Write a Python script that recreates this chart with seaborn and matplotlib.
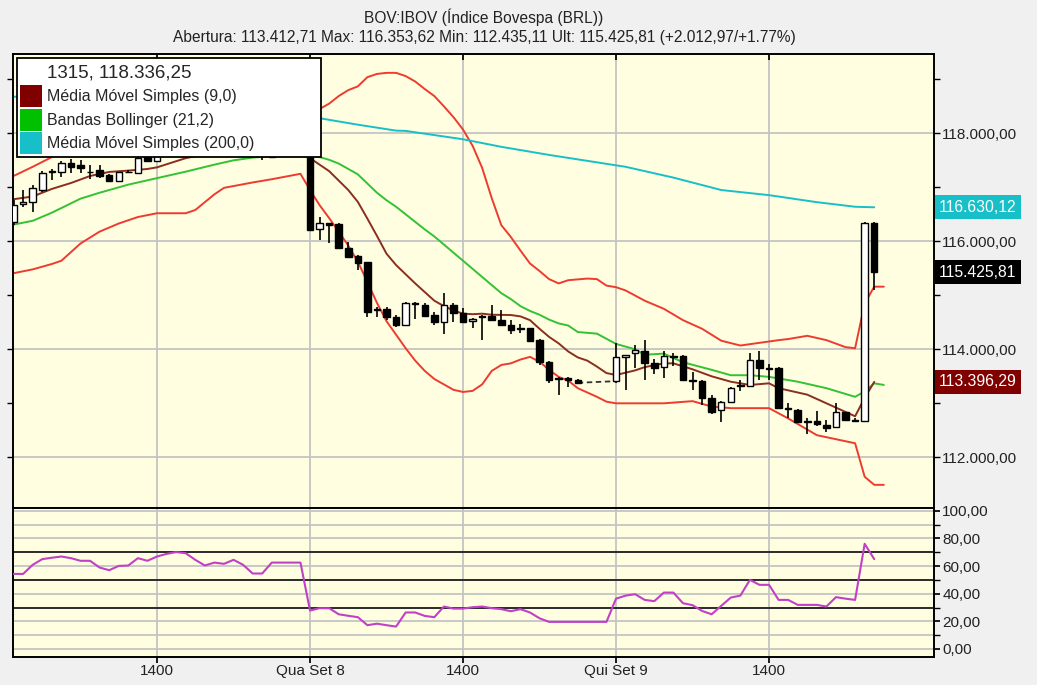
import matplotlib
matplotlib.use("Agg")
import matplotlib.pyplot as plt
import matplotlib.ticker as mticker
from matplotlib.patches import Patch
import seaborn as sns
import pandas as pd
import numpy as np

# 15 min bars, index 0 = Qua Set 8 10:00 (16 bars between grid lines)
bar_idx = list(range(-31, -3)) + list(range(0, 29)) + list(range(32, 60))
opens = [116350, 116690, 116730, 116950, 117280, 117280, 117450, 117410, 117290, 117320,
         117220, 117120, 117280, 117270, 117560, 117480, 117600, 117700, 117820, 117900,
         117850, 117950, 117880, 117800, 117760, 117700, 117650, 117600,
         117600, 116222, 116330, 116320, 115870, 115730, 115620, 114740, 114740, 114600,
         114450, 114860, 114820, 114630, 114510, 114820, 114670, 114520, 114610, 114620,
         114540, 114450, 114390, 114390, 114170, 113770, 113470, 113470, 113440,
         113410, 113850, 113930, 113970, 113740, 113680, 113880, 113880, 113440, 113420,
         113090, 112870, 113030, 113320, 113320, 113810, 113650, 113650, 112910, 112880,
         112680, 112680, 112600, 112560, 112830, 112690, 112680, 116330]
highs = [116760, 116950, 117040, 117300, 117340, 117480, 117520, 117500, 117420, 117420,
         117240, 117290, 117320, 117560, 117620, 117650, 117750, 117880, 117960, 117980,
         118000, 118020, 117920, 117850, 117800, 117740, 117680, 117620,
         117620, 116456, 116340, 116330, 115990, 115740, 115620, 114790, 114790, 114640,
         114870, 114870, 114860, 114690, 115050, 114850, 114760, 114580, 114640, 114820,
         114730, 114540, 114470, 114400, 114200, 113790, 113480, 113480, 113450,
         114120, 113900, 114080, 114170, 113820, 113960, 113930, 113890, 113580, 113430,
         113150, 113040, 113300, 113440, 113930, 113960, 113720, 113680, 113000, 112890,
         112720, 112850, 112700, 113000, 112840, 112720, 116354, 116354]
lows = [116300, 116640, 116540, 116910, 117140, 117190, 117260, 117260, 117160, 117180,
        117090, 117110, 117260, 117250, 117470, 117470, 117560, 117680, 117780, 117800,
        117820, 117850, 117760, 117700, 117650, 117600, 117500, 117540,
        116200, 116024, 115960, 115860, 115710, 115470, 114600, 114600, 114540, 114420,
        114440, 114570, 114600, 114450, 114280, 114510, 114480, 114390, 114170, 114530,
        114440, 114290, 114300, 114150, 113710, 113380, 113150, 113300, 113370,
        113370, 113250, 113650, 113430, 113550, 113460, 113690, 113420, 113240, 112970,
        112800, 112660, 113020, 113220, 113300, 113430, 113440, 112890, 112720, 112650,
        112435, 112580, 112470, 112550, 112680, 112660, 112650, 115100]
closes = [116680, 116720, 116990, 117265, 117300, 117450, 117370, 117350, 117280, 117210,
          117120, 117280, 117290, 117540, 117480, 117600, 117700, 117820, 117900, 117850,
          117950, 117880, 117800, 117760, 117700, 117650, 117600, 117570,
          116210, 116333, 116300, 115870, 115715, 115600, 114700, 114730, 114590, 114450,
          114860, 114830, 114620, 114510, 114820, 114670, 114510, 114570, 114590, 114540,
          114450, 114360, 114380, 114160, 113770, 113430, 113450, 113440, 113380,
          113850, 113890, 113990, 113740, 113650, 113880, 113860, 113430, 113420, 113090,
          112840, 113030, 113290, 113340, 113810, 113650, 113640, 112910, 112900, 112660,
          112660, 112610, 112540, 112830, 112690, 112680, 116330, 115425.81]

# sessions joined by a dashed line (last bar -> first bar of next day)
gap_from = [-4, 28]
gap_to = [0, 32]

ma9_idx = [-31, -29, -27, -25, -23, -21, -19, -17, -16, -13, -10, -6, -3, 0, 2, 4, 5, 6, 7, 8,
           9, 10, 11, 12, 13, 14, 15, 16, 17, 18, 19, 21, 22, 23, 24, 25, 26, 27, 28, 29, 30, 31,
           32, 34, 35, 37, 38, 40, 42, 44, 46, 48, 49, 52, 54, 57, 58, 59]
ma9_val = [116780, 116830, 116970, 117080, 117210, 117285, 117310, 117340, 117370, 117540,
           117650, 117740, 117740, 117540, 117300, 116950, 116730, 116420, 116100, 115770,
           115560, 115390, 115220, 115060, 114900, 114800, 114720, 114660, 114650, 114660,
           114640, 114635, 114610, 114540, 114380, 114230, 114110, 113960, 113850, 113790,
           113680, 113560, 113524, 113610, 113670, 113740, 113740, 113630, 113500, 113400,
           113340, 113370, 113280, 113160, 113000, 112760, 113100, 113396.29]

bb_mid_idx = [-31, -29, -27, -24, -22, -19, -16, -13, -10, -8, -6, -3, 0, 1, 2, 3, 4, 5, 6, 7,
              8, 9, 10, 11, 12, 13, 14, 15, 16, 17, 18, 19, 20, 21, 22, 23, 24, 25, 26, 27, 28,
              30, 32, 34, 35, 37, 39, 42, 44, 46, 48, 51, 54, 57, 58, 59, 60]
bb_mid_val = [116310, 116380, 116530, 116790, 116900, 117050, 117170, 117290, 117420, 117500,
              117550, 117590, 117600, 117560, 117510, 117440, 117340, 117240, 117070, 116900,
              116760, 116640, 116500, 116360, 116220, 116090, 115940, 115790, 115640, 115490,
              115340, 115190, 115040, 114930, 114800, 114710, 114640, 114550, 114480, 114440,
              114320, 114290, 114100, 114000, 113900, 113920, 113760, 113620, 113520, 113520,
              113490, 113400, 113280, 113120, 113220, 113370, 113340]

bb_up_idx = [-31, -29, -27, -24, -20, -16, -12, -8, -4, 0, 1, 2, 3, 4, 5, 6, 7, 8, 9, 10,
             11, 12, 13, 14, 15, 16, 17, 18, 19, 20, 21, 22, 23, 24, 25, 26, 27, 29, 30, 31,
             32, 33, 35, 37, 39, 41, 43, 45, 47, 49, 50, 52, 54, 56, 57, 58, 59, 60]
bb_up_val = [117210, 117380, 117560, 117850, 118150, 118350, 118450, 118450, 118400, 118420,
             118450, 118550, 118690, 118800, 118870, 119040, 119100, 119120, 119120, 119060,
             118960, 118820, 118690, 118500, 118300, 118070, 117770, 117360, 116800, 116300,
             116080, 115830, 115590, 115450, 115300, 115220, 115280, 115310, 115300, 115180,
             115150, 115090, 114900, 114750, 114540, 114380, 114160, 114070, 114120, 114170,
             114190, 114250, 114170, 114040, 114020, 114850, 115160, 115160]

bb_low_idx = [-31, -29, -27, -26, -24, -22, -20, -18, -16, -13, -12, -10, -9, -6, -4, -1, 0,
              1, 2, 3, 4, 5, 6, 7, 8, 9, 10, 11, 12, 13, 14, 15, 16, 17, 18, 19, 20, 21, 22,
              23, 24, 25, 26, 27, 28, 30, 31, 32, 37, 40, 42, 44, 48, 50, 53, 57, 58, 59, 60]
bb_low_val = [115410, 115480, 115580, 115640, 115960, 116180, 116330, 116450, 116520, 116520,
              116580, 116870, 116990, 117090, 117150, 117250, 116950, 116670, 116430, 116180,
              115920, 115620, 115250, 114860, 114520, 114270, 114020, 113790, 113600, 113450,
              113350, 113250, 113210, 113230, 113350, 113600, 113710, 113740, 113810, 113860,
              113770, 113620, 113490, 113420, 113280, 113120, 113030, 113000, 113000, 113040,
              112940, 112910, 112910, 112720, 112410, 112260, 111640, 111490, 111490]

ma200_idx = [-31, -15, 1, 5, 9, 10, 16, 20, 25, 33, 38, 43, 48, 53, 57, 59]
ma200_val = [118680, 118480, 118280, 118160, 118050, 118045, 117890, 117750, 117600, 117380,
             117180, 116950, 116855, 116725, 116640, 116630.12]

rsi_idx = list(range(-31, -3)) + [-1] + list(range(0, 60))
rsi_val = [54.3, 54.3, 60.9, 65.0, 66.0, 66.9, 65.7, 63.8, 63.8, 58.9,
           57.0, 60.1, 60.4, 65.7, 63.8, 66.9, 68.8, 70.1, 69.3, 64.5,
           60.4, 62.5, 61.6, 64.5, 60.9, 54.6, 54.6, 62.5, 62.5,
           27.8, 29.5, 29.5, 25.1, 24.0, 23.0, 17.2, 18.3, 17.2, 16.2,
           26.4, 26.4, 23.9, 23.0, 30.7, 29.2, 29.2, 30.2, 30.7, 29.5,
           28.8, 27.3, 28.8, 26.4, 22.2, 19.6, 19.6, 19.6, 19.6, 19.6,
           19.6, 19.6, 36.4, 38.6, 39.6, 35.5, 34.6, 40.8, 40.8, 33.1,
           31.7, 27.5, 25.1, 31.2, 37.2, 38.6, 50.0, 46.4, 46.4, 35.5,
           35.5, 31.9, 31.9, 31.9, 30.7, 37.5, 36.4, 35.5, 76.1, 65.0]

xtick_pos = [-16, 0, 16, 32, 48]
xtick_labels = ["1400", "Qua Set 8", "1400", "Qui Set 9", "1400"]

legend_title = "1315, 118.336,25"
legend_labels = ["Média Móvel Simples (9,0)", "Bandas Bollinger (21,2)", "Média Móvel Simples (200,0)"]
legend_colors = ["#800000", "#00c000", "#17c0c8"]

title1 = "BOV:IBOV (Índice Bovespa (BRL))"
title2 = "Abertura: 113.412,71 Max: 116.353,62 Min: 112.435,11 Ult: 115.425,81 (+2.012,97/+1.77%)"

BG = "#fffee0"
GRID = "#c4c4c4"


def br_fmt(v, pos=None):
    s = f"{v:,.2f}"
    return s.replace(",", "X").replace(".", ",").replace("X", ".")


sns.set_theme(style="ticks")
plt.rcParams["font.family"] = ["Liberation Sans", "DejaVu Sans"]

fig = plt.figure(figsize=(10.37, 6.85), dpi=100, facecolor="#f0f0f0")
ax = fig.add_axes([0.012536, 0.25839, 0.88814, 0.66277], facecolor=BG)
ax2 = fig.add_axes([0.012536, 0.04131, 0.88814, 0.21708], facecolor=BG, sharex=ax)

# candles
df = pd.DataFrame({"k": bar_idx, "open": opens, "high": highs, "low": lows, "close": closes})
up = df["close"] >= df["open"]
ax.vlines(df["k"], df["low"], df["high"], color="black", lw=1.2, zorder=3)
body_lo = df[["open", "close"]].min(axis=1)
body_h = (df["close"] - df["open"]).abs().clip(lower=10)
ax.bar(df["k"], body_h, bottom=body_lo, width=0.68,
       color=np.where(up, "white", "black"), edgecolor="black", linewidth=1.0, zorder=4)
for a, b in zip(gap_from, gap_to):
    ax.plot([a, b], [df.loc[df.k == a, "close"].iloc[0], df.loc[df.k == b, "open"].iloc[0]],
            ls=(0, (3, 2)), color="#333333", lw=1.3, zorder=3)

# indicator lines
sns.lineplot(x=bb_up_idx, y=bb_up_val, ax=ax, color="#ee3b30", lw=1.4, zorder=2)
sns.lineplot(x=bb_low_idx, y=bb_low_val, ax=ax, color="#ee3b30", lw=1.4, zorder=2)
sns.lineplot(x=bb_mid_idx, y=bb_mid_val, ax=ax, color="#33c233", lw=1.4, zorder=2)
sns.lineplot(x=ma200_idx, y=ma200_val, ax=ax, color="#17c0c8", lw=1.4, zorder=2)
sns.lineplot(x=ma9_idx, y=ma9_val, ax=ax, color="#8a2e20", lw=1.4, zorder=2)

ax.set_xlim(-31.06, 65.25)
ax.set_ylim(111061, 119469)
ax.yaxis.tick_right()
ax.yaxis.set_major_locator(mticker.MultipleLocator(2000))
ax.yaxis.set_minor_locator(mticker.MultipleLocator(1000))
ax.yaxis.set_major_formatter(mticker.FuncFormatter(br_fmt))
ax.set_xticks(xtick_pos)
ax.tick_params(axis="x", labelbottom=False, bottom=False, top=True, direction="in", length=4, color="black")
ax.tick_params(axis="y", which="both", right=True, left=True, length=4, width=1, color="black",
               labelsize=11, labelcolor="#222222", pad=2)
ax.grid(True, which="major", color=GRID, lw=1.3)
ax.set_xlabel("")
ax.set_ylabel("")

# current value tags
tags = [(ma200_val[-1], "#17c0c8"), (closes[-1], "black"), (ma9_val[-1], "#800000")]
for val, col in tags:
    ax.text(1.0055, val, br_fmt(val), transform=ax.get_yaxis_transform(), ha="left", va="center",
            fontsize=11.3, color="white", clip_on=False,
            bbox=dict(boxstyle="square,pad=0.28", facecolor=col, edgecolor="none"))

# legend
handles = [Patch(facecolor="none", edgecolor="none")] + [Patch(facecolor=c, edgecolor="none") for c in legend_colors]
leg = ax.legend(handles, [legend_title] + legend_labels, loc="upper left",
                bbox_to_anchor=(0.0043, 0.7738, 0.330, 0.2167), mode="expand",
                frameon=True, fancybox=False, framealpha=1, facecolor="white", edgecolor="black",
                fontsize=11.5, handlelength=1.36, handleheight=1.74, handletextpad=0.31,
                labelspacing=0.1, borderpad=0.2, borderaxespad=0)
leg.get_frame().set_linewidth(1.3)
leg.get_texts()[0].set_fontsize(13.5)
leg.set_zorder(10)

# lower panel (oscillator)
sns.lineplot(x=rsi_idx, y=rsi_val, ax=ax2, color="#c040c8", lw=1.5, zorder=3)
for lvl in [30, 50, 70]:
    ax2.axhline(lvl, color="#2b2b2b", lw=1.4, zorder=2)
ax2.set_ylim(-5.6, 102)
ax2.yaxis.tick_right()
ax2.yaxis.set_major_locator(mticker.MultipleLocator(20))
ax2.yaxis.set_minor_locator(mticker.MultipleLocator(10))
ax2.yaxis.set_major_formatter(mticker.FuncFormatter(lambda v, p: f"{v:.2f}".replace(".", ",")))
ax2.grid(True, axis="y", which="both", color=GRID, lw=1.3)
ax2.grid(True, axis="x", which="major", color=GRID, lw=1.3)
ax2.set_xticks(xtick_pos)
ax2.set_xticklabels(xtick_labels)
ax2.tick_params(axis="x", length=4, color="black", labelsize=11, labelcolor="#222222", pad=1)
ax2.tick_params(axis="y", which="both", right=True, length=4, color="black",
                labelsize=11, labelcolor="#222222", pad=2)
ax2.set_xlabel("")
ax2.set_ylabel("")

for a in (ax, ax2):
    for sp in a.spines.values():
        sp.set_color("black")
        sp.set_linewidth(1.4)

fig.text(0.4667, 0.975, title1, ha="center", va="center", fontsize=11.2, color="#222222")
fig.text(0.4667, 0.945, title2, ha="center", va="center", fontsize=11.2, color="#222222")

fig.savefig("out.png", dpi=100, facecolor=fig.get_facecolor())
